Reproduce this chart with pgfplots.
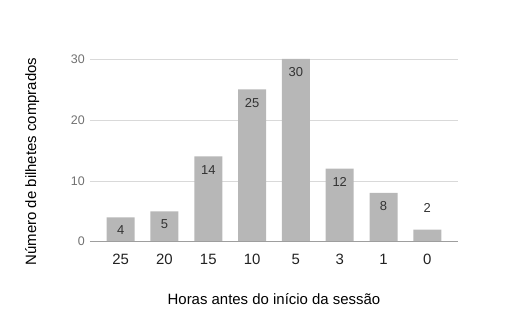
\documentclass[border=0pt]{standalone}
\usepackage{pgfplots}
\pgfplotsset{compat=1.18}
\usepackage{fontspec}
\setmainfont{Liberation Sans}

\definecolor{barfill}{HTML}{B7B7B7}
\definecolor{gridc}{HTML}{D9D9D9}
\definecolor{axisc}{HTML}{9E9E9E}
\definecolor{ytickc}{HTML}{707070}
\definecolor{xtickc}{HTML}{222222}
\definecolor{labc}{HTML}{333333}

\pgfplotstableread{
idx hours tickets
0 25 4
1 20 5
2 15 14
3 10 25
4 5 30
5 3 12
6 1 8
7 0 2
}\tickets

% bars tall enough to hold their label inside
\pgfplotstableread{
idx tickets
0 4
1 5
2 14
3 25
4 30
5 12
6 8
}\insidelabels

% short bar: label sits above it
\pgfplotstableread{
idx tickets
7 2
}\abovelabels

\begin{document}
\begin{tikzpicture}[x=1bp,y=1bp]
\useasboundingbox (-90bp,-84.3bp) rectangle (422bp,241.7bp);
\begin{axis}[
  at={(0,0)}, anchor=south west,
  scale only axis,
  width=368bp, height=182.7bp,
  xmin=-0.7, xmax=7.7,
  ymin=0, ymax=30,
  xtick={0,...,7},
  xticklabels={25,20,15,10,5,3,1,0},
  ytick={0,10,20,30},
  ymajorgrids,
  grid style={gridc, line width=0.6pt},
  axis line style={draw=none},
  axis x line*=bottom,
  axis y line*=left,
  major tick length=0pt,
  tick style={draw=none},
  xticklabel style={font=\fontsize{15}{17}\selectfont, text=xtickc, anchor=base, yshift=-22.3bp},
  yticklabel style={font=\fontsize{12.5}{14}\selectfont, text=ytickc, anchor=east, inner sep=0pt, xshift=-5bp},
  /pgf/number format/assume math mode=true,
  xlabel={Horas antes do início da sessão},
  ylabel={Número de bilhetes comprados},
  every axis x label/.style={at={(axis description cs:0.5,0)}, anchor=base, yshift=-62.3bp,
    font=\fontsize{15}{17}\selectfont, text=black},
  every axis y label/.style={at={(axis description cs:-0.1467,0.439)}, anchor=base, rotate=90,
    font=\fontsize{15}{17}\selectfont, text=black},
  clip=false,
]
\addplot[ybar, bar width=28bp, fill=barfill, draw=none] table[x=idx, y=tickets] {\tickets};
% baseline of the value axis
\draw[axisc, line width=0.8pt] (axis cs:-0.7,0) -- (axis cs:7.7,0);
% value labels
\addplot[only marks, mark=none, nodes near coords, point meta=explicit,
  nodes near coords style={font=\fontsize{13}{15}\selectfont, text=labc, anchor=center, yshift=-13.2bp}
  ] table[x=idx, y=tickets, meta=tickets] {\insidelabels};
\addplot[only marks, mark=none, nodes near coords, point meta=explicit,
  nodes near coords style={font=\fontsize{13}{15}\selectfont, text=labc, anchor=center, yshift=21.5bp}
  ] table[x=idx, y=tickets, meta=tickets] {\abovelabels};
\end{axis}
\end{tikzpicture}
\end{document}
